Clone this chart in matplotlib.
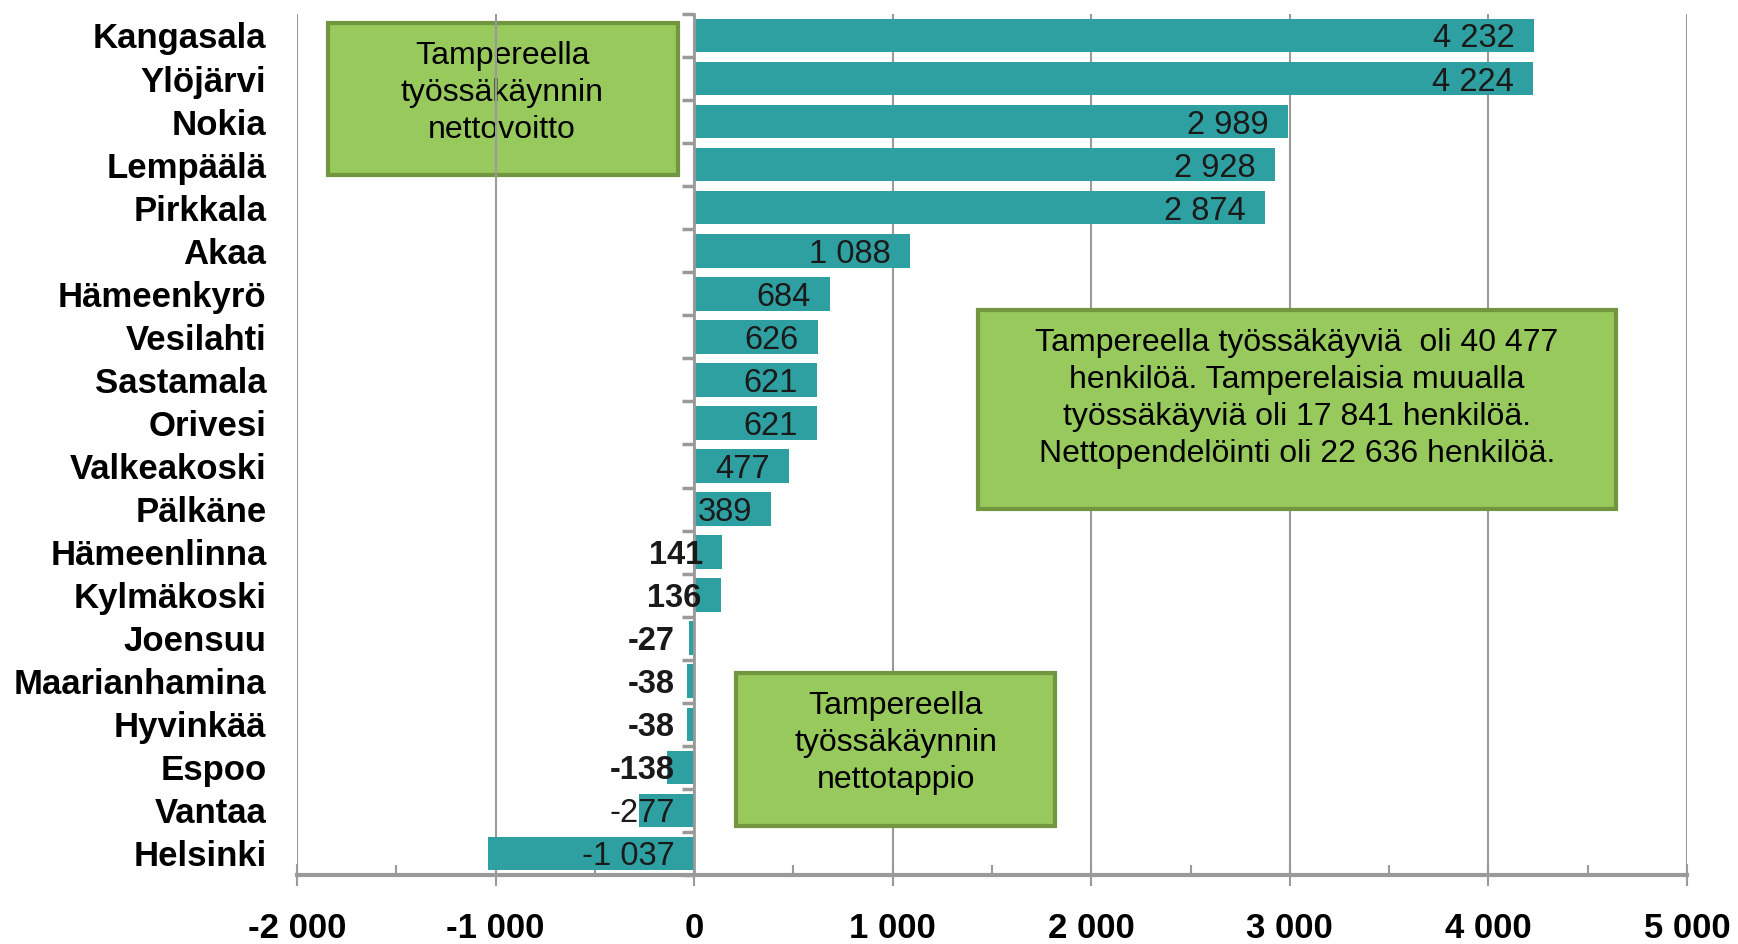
import numpy as np
import matplotlib
matplotlib.use('Agg')
import matplotlib.pyplot as plt
from matplotlib.patches import Rectangle
from matplotlib.ticker import FixedLocator, FuncFormatter

# ── Data ──────────────────────────────────────────────────────────────────────
kunnat = ['Kangasala', 'Ylöjärvi', 'Nokia', 'Lempäälä', 'Pirkkala', 'Akaa',
          'Hämeenkyrö', 'Vesilahti', 'Sastamala', 'Orivesi', 'Valkeakoski',
          'Pälkäne', 'Hämeenlinna', 'Kylmäkoski', 'Joensuu', 'Maarianhamina',
          'Hyvinkää', 'Espoo', 'Vantaa', 'Helsinki']
netto = [4232, 4224, 2989, 2928, 2874, 1088, 684, 626, 621, 621, 477, 389,
         141, 136, -27, -38, -38, -138, -277, -1037]
x_ticks = [-2000, -1000, 0, 1000, 2000, 3000, 4000, 5000]

box_voitto = 'Tampereella\ntyössäkäynnin\nnettovoitto'
box_tappio = 'Tampereella\ntyössäkäynnin\nnettotappio'
box_info = ('Tampereella työssäkäyviä  oli 40 477\n'
            'henkilöä. Tamperelaisia muualla\n'
            'työssäkäyviä oli 17 841 henkilöä.\n'
            'Nettopendelöinti oli 22 636 henkilöä.')

# ── Style ─────────────────────────────────────────────────────────────────────
BAR_COLOR = '#2FA0A1'
BOX_FILL = '#97C95D'
BOX_EDGE = '#72953F'
GRID_COLOR = '#9A9A9A'
plt.rcParams['font.family'] = ['Liberation Sans', 'DejaVu Sans']


def fmt_num(v):
    s = f'{abs(int(v)):,}'.replace(',', ' ')
    return ('-' if v < 0 else '') + s


fig = plt.figure(figsize=(17.38, 9.44), dpi=100)
ax = fig.add_axes([0.1709, 0.0731, 0.7997, 0.9121])

y = np.arange(len(kunnat))
ax.barh(y, netto, height=0.78, color=BAR_COLOR, zorder=2)

# value labels, right aligned just inside the bar end
for yi, v in zip(y, netto):
    ax.annotate(fmt_num(v), xy=(max(v, 0), yi), xytext=(-14, 0),
                textcoords='offset points', ha='right', va='center_baseline',
                fontsize=23.5, color='#1A1A1A', zorder=4,
                fontweight='bold' if abs(v) < 150 else 'normal')

# category labels
for yi, name in zip(y, kunnat):
    ax.text(-0.022, yi, name, transform=ax.get_yaxis_transform(),
            ha='right', va='center_baseline', fontsize=25,
            fontweight='bold', color='black')

ax.set_xlim(-2000, 5000)
ax.set_ylim(len(kunnat) - 0.5, -0.5)

# vertical grid
ax.set_axisbelow(True)
ax.xaxis.set_major_locator(FixedLocator(x_ticks))
ax.xaxis.set_minor_locator(FixedLocator(np.arange(-1500, 5000, 1000)))
ax.xaxis.set_major_formatter(FuncFormatter(lambda v, p: fmt_num(v)))
ax.grid(axis='x', which='major', color=GRID_COLOR, linewidth=1.5)
ax.tick_params(axis='x', which='major', direction='inout', length=16,
               width=1.5, color=GRID_COLOR, labelsize=25, pad=19)
ax.tick_params(axis='x', which='minor', direction='in', length=7,
               width=1.5, color=GRID_COLOR)
for lbl in ax.get_xticklabels():
    lbl.set_fontweight('bold')

# zero axis with category boundary ticks
ax.spines['left'].set_position(('data', 0))
ax.spines['left'].set_color(GRID_COLOR)
ax.spines['left'].set_linewidth(2)
ax.spines['left'].set_zorder(3)
ax.set_yticks(np.arange(-0.5, len(kunnat), 1))
ax.set_yticklabels([])
ax.tick_params(axis='y', direction='out', length=9, width=2.5,
               color=GRID_COLOR)

ax.spines['bottom'].set_color(GRID_COLOR)
ax.spines['bottom'].set_linewidth(3)
ax.spines['top'].set_visible(False)
ax.spines['right'].set_visible(False)

# ── Text boxes ────────────────────────────────────────────────────────────────
def text_box(x0, y0, x1, y1, tx, ty, text, z):
    ax.add_patch(Rectangle((x0, y0), x1 - x0, y1 - y0, transform=ax.transAxes,
                           facecolor=BOX_FILL, edgecolor=BOX_EDGE,
                           linewidth=3, zorder=z, clip_on=False))
    ax.text(tx, ty, text, transform=ax.transAxes, ha='center', va='center',
            fontsize=23, linespacing=1.3, color='black', zorder=z + 0.1)

text_box(0.0223, 0.8130, 0.2741, 0.9895, 0.1475, 0.908, box_voitto, 0.3)
text_box(0.4899, 0.4251, 0.9489, 0.6562, 0.7194, 0.5534, box_info, 5)
text_box(0.3158, 0.0569, 0.5453, 0.2346, 0.4307, 0.1533, box_tappio, 5)

fig.savefig('out.png', dpi=100, facecolor='white')
